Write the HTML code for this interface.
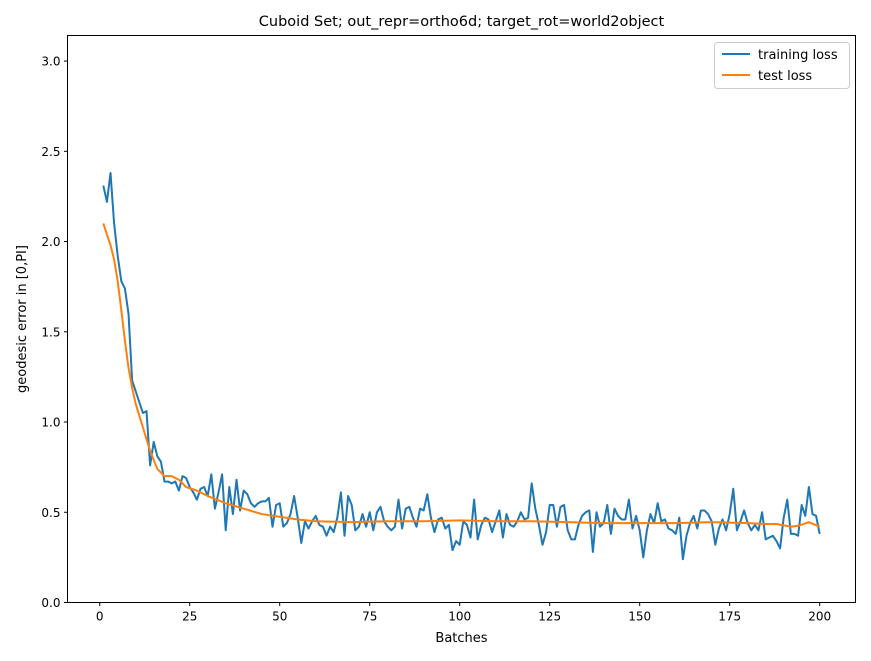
<!DOCTYPE html>
<html><head><meta charset="utf-8"><style>
body{margin:0;background:#fff}
svg{display:block;font-family:"DejaVu Sans","Liberation Sans",sans-serif}
</style></head><body>
<svg id="chart" width="871" height="661" viewBox="0 0 871 661" xmlns="http://www.w3.org/2000/svg">
<rect width="871" height="661" fill="#fff"/>
<text x="461.5" y="26" font-size="14.5" text-anchor="middle">Cuboid Set; out_repr=ortho6d; target_rot=world2object</text>
<g id="plot"></g>
<rect x="67.5" y="35.5" width="788" height="567" fill="none" stroke="#000" stroke-width="1"/>
<text x="461.5" y="642" font-size="13" text-anchor="middle">Batches</text>
<text transform="translate(26,319) rotate(-90)" font-size="13" text-anchor="middle">geodesic error in [0,PI]</text>
<g>
<rect x="714.5" y="42.5" width="135" height="46" rx="3" fill="#fff" stroke="#ccc"/>
<line x1="722" y1="54" x2="750" y2="54" stroke="#1f77b4" stroke-width="2"/>
<text x="758" y="59" font-size="13">training loss</text>
<line x1="722" y1="75" x2="750" y2="75" stroke="#ff7f0e" stroke-width="2"/>
<text x="758" y="80" font-size="13">test loss</text>
</g>
</svg>
<script>
const trainValues=[2.31,2.22,2.38,2.1,1.92,1.78,1.74,1.6,1.23,1.17,1.11,1.05,1.06,0.76,0.89,0.81,0.78,0.67,0.67,0.66,
0.67,0.62,0.70,0.69,0.64,0.61,0.57,0.63,0.64,0.59,0.71,0.52,0.61,0.71,0.40,0.64,0.49,0.68,0.51,0.62,
0.60,0.55,0.53,0.55,0.56,0.56,0.58,0.42,0.54,0.55,0.42,0.44,0.49,0.59,0.47,0.33,0.45,0.41,0.45,0.48,
0.43,0.42,0.37,0.42,0.39,0.47,0.61,0.37,0.59,0.54,0.40,0.42,0.49,0.42,0.50,0.40,0.50,0.53,0.45,0.42,
0.40,0.42,0.57,0.41,0.52,0.53,0.47,0.42,0.52,0.51,0.60,0.47,0.39,0.46,0.47,0.41,0.43,0.29,0.34,0.32,
0.45,0.43,0.36,0.57,0.35,0.43,0.47,0.46,0.39,0.45,0.51,0.36,0.49,0.43,0.42,0.45,0.50,0.46,0.47,0.66,
0.52,0.43,0.32,0.39,0.54,0.54,0.42,0.53,0.54,0.40,0.35,0.35,0.43,0.48,0.50,0.51,0.28,0.50,0.42,0.44,
0.54,0.38,0.52,0.48,0.46,0.46,0.57,0.41,0.48,0.40,0.25,0.40,0.49,0.44,0.55,0.45,0.46,0.41,0.40,0.38,
0.47,0.24,0.37,0.44,0.48,0.41,0.51,0.51,0.49,0.45,0.32,0.41,0.46,0.40,0.49,0.63,0.40,0.45,0.51,0.44,
0.40,0.43,0.40,0.50,0.35,0.36,0.37,0.34,0.30,0.47,0.57,0.38,0.38,0.37,0.54,0.48,0.64,0.49,0.48,0.38];
const testX=[1,3,4,5,6,7,8,9,10,12,14,16,18,20,22,24,27,30,35,40,45,50,55,60,70,80,90,100,110,120,130,140,150,160,170,180,185,188,192,194,197,200];
const testValues=[2.10,1.98,1.90,1.78,1.62,1.45,1.30,1.19,1.10,0.97,0.84,0.74,0.70,0.70,0.68,0.64,0.62,0.59,0.55,0.52,0.49,0.475,0.46,0.45,0.445,0.45,0.45,0.455,0.45,0.45,0.445,0.44,0.44,0.44,0.445,0.44,0.435,0.435,0.42,0.425,0.445,0.42];
const xTicks=[0,25,50,75,100,125,150,175,200];
const yTicks=[0.0,0.5,1.0,1.5,2.0,2.5,3.0];
const L=67.5,R=855.5,T=35.5,B=602.5,xMin=-8.95,xMax=209.95,yMin=0,yMax=Math.PI;
const sx=v=>L+(v-xMin)/(xMax-xMin)*(R-L);
const sy=v=>B-(v-yMin)/(yMax-yMin)*(B-T);
const NS="http://www.w3.org/2000/svg",g=document.getElementById('plot');
function mk(t,a){const e=document.createElementNS(NS,t);for(const k in a)e.setAttribute(k,a[k]);g.appendChild(e);return e;}
xTicks.forEach(v=>{
 const l=mk('line',{x1:sx(v),x2:sx(v),y1:B,y2:B+3.5,stroke:'#000'});
 
 
 const t=mk('text',{x:sx(v),y:B+18,'font-size':12,'text-anchor':'middle'});t.textContent=v;
 
 
});
yTicks.forEach(v=>{
 const l=mk('line',{x1:L-3.5,x2:L,y1:sy(v),y2:sy(v),stroke:'#000'});
 
 
 const t=mk('text',{x:L-7,y:sy(v)+4.5,'font-size':12,'text-anchor':'end'});t.textContent=v.toFixed(1);
 
 
});
const p1=mk('polyline',{points:trainValues.map((v,i)=>sx(i+1)+','+sy(v)).join(' '),fill:'none',stroke:'#1f77b4','stroke-width':2,'stroke-linejoin':'round'});


const p2=mk('polyline',{points:testValues.map((v,i)=>sx(testX[i])+','+sy(v)).join(' '),fill:'none',stroke:'#ff7f0e','stroke-width':2,'stroke-linejoin':'round'});


</script>
</body></html>
